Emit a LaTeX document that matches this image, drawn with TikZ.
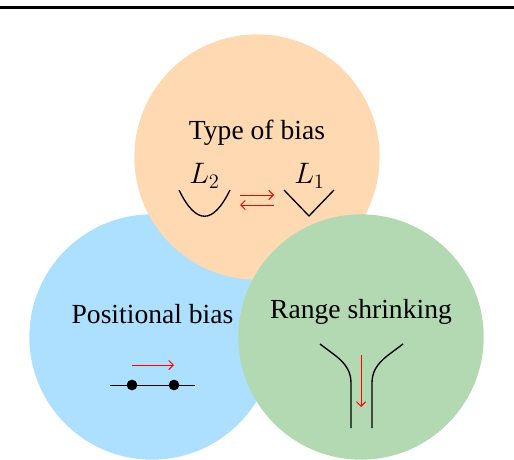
\documentclass[tikz,border=0pt]{standalone}
\usepackage{fontspec}
\setmainfont{Liberation Serif}
\usetikzlibrary{arrows.meta}
\definecolor{typecol}{rgb}{1,0.85,0.7}
\definecolor{poscol}{HTML}{ADDFFF}
\definecolor{rangecol}{rgb}{0.7,0.85,0.7}
\tikzset{
	bias/.style={circle, inner sep=0pt, minimum size=184pt},
	redarrow/.style={-{Straight Barb[length=3.5pt,width=7pt]}, red, line width=0.7pt},
	curve/.style={black, line width=1pt},
	label/.style={inner sep=0pt, font=\fontsize{20.7}{24}\selectfont},
	loss/.style={label, scale=1.07},
}
\begin{document}
\begin{tikzpicture}[x=0.75pt,y=-0.75pt, line join=round]
			\useasboundingbox (0,0) rectangle (514,460);
			\coordinate (ruleL) at (0,7.5);
			\coordinate (ruleR) at (514,7.5);
			\draw[line width=2.2pt] (ruleL) -- (ruleR);
			% circles
			\node[bias, fill=poscol] (pos) at (152,337) {};
			\node[bias, fill=typecol] (type) at (257,157) {};
			\node[bias, fill=rangecol] (range) at (361,337) {};
			% type of bias
			\node[label] (typetext) at (257,132.5) {Type of bias};
			\node[loss] (ltwo) at (204.5,176) {$L_2$};
			\node[loss] (lone) at (309.5,176) {$L_1$};
			\draw[curve] (179,190) .. controls (196,225) and (213,225) .. (230,190);
			\draw[curve] (284,190) -- (309,216) -- (334,190);
			\coordinate (upA) at (240,195);
			\coordinate (upB) at (274,195);
			\coordinate (lowA) at (274,205);
			\coordinate (lowB) at (240,205);
			\draw[redarrow] (upA) -- (upB);
			\draw[redarrow] (lowA) -- (lowB);
			% positional bias
			\node[label] (postext) at (152.5,314.5) {Positional bias};
			\coordinate (lineL) at (110,385.5);
			\coordinate (lineR) at (195,385.5);
			\draw[curve] (lineL) -- (lineR);
			\foreach \x/\n in {132/dotA,174/dotB}{
				\node[circle, fill=black, inner sep=0pt, minimum size=8pt] (\n) at (\x,385) {};
			}
			\coordinate (shiftA) at (132,365);
			\coordinate (shiftB) at (174,365);
			\draw[redarrow] (shiftA) -- (shiftB);
			% range shrinking
			\node[label] (rangetext) at (361,311.5) {Range shrinking};
			\draw[curve] (320,344) -- (336,356) .. controls (346,364) and (351,372) .. (351,383) -- (351,428);
			\draw[curve] (403,344) -- (387,356) .. controls (377,364) and (372,372) .. (372,383) -- (372,428);
			\coordinate (downA) at (361,355);
			\coordinate (downB) at (361,407);
			\draw[redarrow] (downA) -- (downB);
		\end{tikzpicture}
\end{document}
